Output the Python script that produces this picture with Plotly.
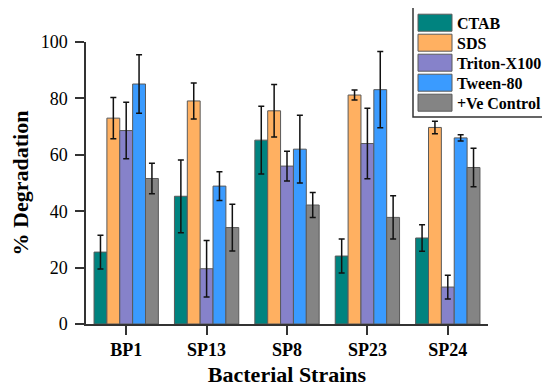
import plotly.graph_objects as go

strains = ["BP1", "SP13", "SP8", "SP23", "SP24"]
series_names = ["CTAB", "SDS", "Triton-X100", "Tween-80", "+Ve Control"]
colors = ["#00837F", "#FFB061", "#8682CA", "#3A9BFF", "#848484"]

ctab = [25.5, 45.3, 65.2, 24.1, 30.5]
ctab_err = [6.0, 12.9, 12.0, 6.0, 4.7]
sds = [73.0, 79.1, 75.6, 81.2, 69.7]
sds_err = [7.3, 6.4, 9.3, 1.8, 2.2]
triton = [68.6, 19.6, 56.0, 64.0, 13.1]
triton_err = [10.0, 10.0, 5.3, 12.5, 4.2]
tween = [85.1, 48.9, 62.0, 83.1, 66.0]
tween_err = [10.4, 5.1, 12.0, 13.5, 1.1]
control = [51.6, 34.2, 42.2, 37.8, 55.5]
control_err = [5.4, 8.3, 4.4, 7.7, 6.8]

values = [ctab, sds, triton, tween, control]
errors = [ctab_err, sds_err, triton_err, tween_err, control_err]

# page has an 8px body margin, so the figure is sized to fill the rest of the window
OFF = 8
W, H = 550 - OFF, 387 - OFF
L, R, T, B = 86 - OFF, 62, 42 - OFF, 63
FONT = "Liberation Serif"

fig = go.Figure()
for name, col, v, e in zip(series_names, colors, values, errors):
    fig.add_trace(go.Bar(
        name=name, x=strains, y=v,
        marker=dict(color=col, line=dict(color="#5a5a5a", width=1)),
        error_y=dict(type="data", array=e, visible=True, color="#111111",
                     thickness=1.5, width=3),
        showlegend=False,
    ))

# custom legend (box with large swatches), built from the series lists
pw, ph = W - L - R, H - T - B
def px_x(x):
    return (x - OFF - L) / pw
def px_y(y):
    return (H - B - (y - OFF)) / ph

shapes = [dict(type="rect", xref="paper", yref="paper",
               x0=px_x(413), x1=px_x(545), y0=px_y(7), y1=px_y(117),
               line=dict(color="#333333", width=1.5), fillcolor="white")]
annotations = []
for i, (name, col) in enumerate(zip(series_names, colors)):
    cy = 22.7 + 20 * i
    shapes.append(dict(type="rect", xref="paper", yref="paper",
                       x0=px_x(418), x1=px_x(452), y0=px_y(cy - 8.5), y1=px_y(cy + 8.5),
                       line=dict(color="#5a5a5a", width=1), fillcolor=col))
    annotations.append(dict(xref="paper", yref="paper", x=px_x(455), y=px_y(cy + 0.5),
                            text="<b>%s</b>" % name, showarrow=False,
                            xanchor="left", yanchor="middle",
                            font=dict(family=FONT, size=16, color="black")))

fig.update_layout(
    width=W, height=H, autosize=False,
    margin=dict(l=L, r=R, t=T, b=B, pad=0),
    paper_bgcolor="white", plot_bgcolor="white",
    barmode="group", bargap=0.2, bargroupgap=0,
    font=dict(family=FONT, color="black"),
    shapes=shapes, annotations=annotations,
    showlegend=False,
)
fig.update_xaxes(
    automargin=False,
    showline=True, linecolor="#333333", linewidth=1.5,
    ticks="outside", ticklen=9, tickwidth=1.5, tickcolor="#333333",
    tickvals=strains, ticktext=["<b>%s</b>" % s for s in strains],
    tickfont=dict(family=FONT, size=18, color="black"),
    title=dict(text="<b>Bacterial Strains</b>", font=dict(family=FONT, size=22, color="black"), standoff=8),
    range=[-0.5, 4.5], showgrid=False, zeroline=False,
)
fig.update_yaxes(
    automargin=False,
    showline=True, linecolor="#333333", linewidth=1.5,
    ticks="outside", ticklen=9, tickwidth=1.5, tickcolor="#333333",
    tickfont=dict(family=FONT, size=18, color="black"),
    tickvals=[0, 20, 40, 60, 80, 100], ticklabelstandoff=4,
    title=dict(text="<b>% Degradation</b>", font=dict(family=FONT, size=22, color="black"), standoff=14),
    range=[0, 100], showgrid=False, zeroline=False,
)

fig.write_html("out.html")
